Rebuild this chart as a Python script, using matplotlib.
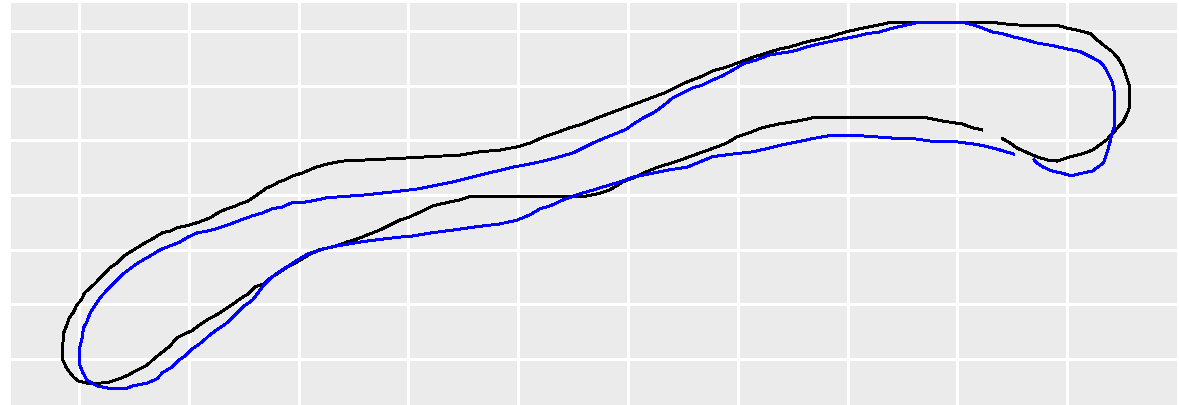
import numpy as np
import matplotlib
matplotlib.use("Agg")
import matplotlib.pyplot as plt

# Black trace (open loop; gap between its two ends)
black_x = [82.2, 81.4, 80.4, 78.7, 77.2, 72.9, 66.8, 65.4, 63.8, 62.2, 61.1, 59.9, 59.0, 58.1,
           56.3, 54.5, 52.6, 51.4, 50.5, 49.5, 49.0, 48.2, 47.2, 45.9, 44.4, 35.6, 34.7, 33.5,
           32.2, 31.1, 30.1, 29.2, 28.3, 27.4, 26.5, 25.4, 24.4, 23.1, 21.9, 20.8, 19.9, 19.0,
           18.3, 17.4, 16.8, 16.0, 15.4, 14.8, 14.2, 13.5, 12.7, 11.7, 11.0, 10.3, 9.4, 8.9,
           8.3, 7.6, 6.9, 6.2, 5.3, 4.5, 3.7, 2.8, 1.9, 0.7, -0.1, -0.5, -0.9, -1.2, -1.5, -1.5,
           -1.4, -1.1, -0.9, -0.5, -0.2, 0.2, 0.5, 1.0, 1.5, 1.9, 2.4, 2.8, 3.5, 4.0, 4.5, 5.1,
           5.7, 6.7, 7.6, 8.3, 8.9, 9.9, 11.0, 11.9, 12.8, 13.5, 14.0, 14.7, 15.4, 16.0, 16.6,
           17.1, 17.7, 18.2, 18.9, 19.5, 20.3, 21.6, 22.7, 24.0, 29.2, 34.7, 36.5,
           38.3, 39.9, 41.1, 42.3, 43.5, 44.7, 45.9, 47.2, 48.4, 49.9, 51.1, 52.3, 53.5, 54.5,
           55.4, 56.6, 57.7, 59.0, 60.2, 61.4, 62.7, 63.8, 64.8, 65.9, 67.2, 68.4, 69.3, 70.2,
           71.4, 72.9, 74.0, 83.0, 85.1, 89.3, 90.0, 91.2, 92.1, 92.7, 93.3, 94.1, 94.6, 95.1,
           95.4, 95.7, 95.7, 95.4, 95.1, 94.6, 94.2, 93.6, 93.0, 92.3, 91.3, 90.3, 89.1, 88.2,
           87.2, 86.2, 85.4, 84.8, 84.1]
black_y = [41.9, 42.3, 43.0, 43.5, 44.1, 44.1, 44.1, 43.5, 43.0, 42.3, 41.4, 40.6, 39.5, 38.8,
           37.5, 36.2, 35.0, 34.0, 33.1, 32.4, 31.7, 30.8, 30.2, 29.7, 29.7, 29.7, 29.1, 28.6,
           28.0, 26.9, 26.0, 25.4, 24.5, 23.6, 22.9, 22.0, 21.4, 20.5, 20.0, 18.9, 17.8, 16.9,
           15.9, 14.8, 13.7, 13.2, 11.9, 11.2, 10.3, 9.4, 8.3, 7.2, 6.3, 5.2, 4.4, 3.9,
           2.4, 1.3, 0.2, -1.1, -2.0, -2.9, -3.6, -4.2, -4.4, -4.4, -4.0, -3.3, -2.3, -1.4, -0.1, 2.2,
           4.8, 6.3, 7.5, 8.6, 9.9, 10.8, 12.1, 13.0, 13.9, 14.8, 15.8, 16.7, 17.6, 18.7, 19.4, 20.1,
           20.9, 22.0, 23.1, 23.4, 24.0, 24.4, 25.1, 25.8, 26.9, 27.5, 27.8, 28.4, 28.9, 29.7, 30.6,
           31.3, 31.8, 32.4, 32.9, 33.5, 34.0, 35.1, 35.7, 36.2, 36.7, 37.3, 37.9,
           38.2, 38.8, 39.5, 40.6, 41.4, 42.3, 43.0, 44.1, 45.0, 46.1, 47.0, 47.9, 48.8, 49.8,
           50.7, 51.6, 52.7, 53.4, 54.3, 55.2, 56.0, 56.7, 57.1, 57.8, 58.4, 58.9, 59.5, 60.0,
           60.5, 61.1, 61.6, 61.6, 61.1, 60.9, 60.5, 60.0, 59.5, 58.4, 57.4, 56.2, 55.1, 53.4,
           51.6, 49.8, 46.1, 44.6, 43.4, 42.3, 41.4, 40.1, 39.2, 38.2, 37.5, 37.0, 36.2, 36.4,
           37.0, 37.9, 38.6, 39.5, 40.3]

# Blue trace (open loop; gap between its two ends)
blue_x = [85.1, 84.1, 83.2, 81.9, 80.0, 78.1, 76.0, 74.8, 71.4, 68.2, 66.8, 65.4, 64.1, 62.9,
          61.4, 59.6, 57.7, 56.6, 55.4, 53.8, 52.3, 50.5, 49.3, 48.1, 46.8, 45.6, 44.1, 42.9,
          42.0, 41.1, 39.9, 38.3, 36.2, 34.1, 32.2, 30.4, 29.2, 27.1, 25.6, 24.7, 23.5, 22.6,
          21.7, 20.8, 19.9, 19.2, 18.5, 17.7, 17.1, 16.7, 16.3, 15.8, 14.9, 14.2, 13.6, 12.8,
          11.9, 11.2, 10.4, 9.7, 9.0, 8.5, 7.6, 7.1, 6.2, 4.9, 4.4, 2.6, 1.6, 0.7, 0.3, 0.0,
          0.0, 0.3, 0.4, 0.7, 1.0, 1.5, 1.9, 2.6, 3.3, 3.9, 4.5, 5.1, 5.8, 6.6, 7.4, 8.3, 9.2,
          9.9, 10.8, 11.7, 12.8, 13.8, 14.7, 15.8, 16.7, 17.6, 18.5, 19.4, 20.6, 21.7, 22.6,
          26.0, 29.2, 30.8, 32.6, 34.1, 35.9, 37.7, 39.3, 41.1, 42.3, 43.8, 45.0, 45.9,
          46.8, 48.1, 49.1, 49.9, 50.5, 51.4, 52.3, 53.2, 54.1, 55.0, 55.9, 56.8, 57.7, 58.6,
          59.6, 60.5, 61.7, 62.9, 64.1, 64.8, 65.4, 66.3, 67.8, 69.3, 70.5, 71.8, 72.9, 74.1,
          75.4, 76.6, 80.5, 81.4, 82.3, 83.2, 84.1, 85.1, 86.2, 87.2, 88.7, 90.0, 91.2, 91.8,
          92.3, 93.0, 93.4, 93.7, 94.1, 94.3, 94.3, 94.3, 94.1, 93.9, 93.7, 93.5, 93.3, 92.8,
          92.3, 91.4, 90.4, 89.5, 88.6, 87.8, 87.2, 87.0]
blue_y = [37.5, 38.1, 38.6, 39.2, 39.7, 39.7, 40.3, 40.3, 40.8, 40.8, 40.3, 39.7, 39.2, 38.6,
          37.9, 37.5, 37.0, 36.1, 35.1, 34.6, 34.0, 33.3, 32.4, 31.7, 30.9, 30.2, 29.1, 28.0,
          27.5, 26.4, 25.4, 24.7, 24.2, 23.6, 23.1, 22.5, 22.3, 21.8, 21.4, 21.1, 20.7, 20.3,
          19.8, 19.2, 18.1, 17.2, 16.3, 15.2, 14.1, 13.2, 12.1, 10.8, 9.5, 8.1, 6.8, 5.7,
          4.4, 3.1, 2.0, 0.6, -0.3, -1.4, -2.5, -3.6, -4.4, -4.9, -5.3, -5.3, -4.9, -3.8, -2.3, -0.7,
          1.7, 4.1, 5.7, 6.8, 8.4, 9.9, 11.2, 12.7, 14.1, 15.4, 16.3, 17.2, 18.1, 19.0, 20.0, 20.7, 21.4,
          22.3, 23.1, 23.4, 24.0, 24.7, 25.4, 26.2, 26.7, 27.5, 27.8, 28.6, 28.7, 29.1, 29.5,
          30.0, 30.7, 31.1, 31.8, 32.4, 33.3, 34.2, 35.0, 35.7, 36.2, 37.0, 37.7, 38.6,
          39.5, 40.6, 41.4, 42.1, 43.0, 44.1, 45.0, 46.3, 47.8, 48.7, 49.6, 50.1, 51.0, 51.8,
          52.9, 54.0, 54.7, 55.6, 56.0, 56.2, 56.5, 57.1, 57.8, 58.4, 58.9, 59.5, 59.8, 60.5,
          61.1, 61.6, 61.6, 61.1, 60.5, 59.8, 59.5, 58.9, 58.4, 57.8, 57.3, 56.7, 56.2, 55.6,
          55.1, 54.3, 53.4, 52.3, 50.7, 48.7, 44.3, 42.5, 41.4, 39.7, 38.2, 37.0, 35.9, 35.1,
          34.4, 34.0, 33.5, 34.0, 34.4, 35.1, 35.9, 36.4]

x_breaks = [0, 10, 20, 30, 40, 50, 60, 70, 80, 90]
y_breaks = [0, 10, 20, 30, 40, 50, 60]

W, H = 1179, 405
fig = plt.figure(figsize=(W / 100, H / 100), dpi=100)
fig.patch.set_facecolor("white")
ax = fig.add_axes([11 / W, 0, 1166 / W, 402 / H])
ax.set_facecolor("#EBEBEB")
ax.set_xlim(-6.2, 100.0)
ax.set_ylim(-8.4, 65.1)
for xb in x_breaks:
    ax.axvline(xb, color="white", lw=1.9, antialiased=False, zorder=1)
for yb in y_breaks:
    ax.axhline(yb, color="white", lw=1.9, antialiased=False, zorder=1)

ax.plot(black_x, black_y, color="black", lw=1.4, antialiased=False, zorder=3)
ax.plot(blue_x, blue_y, color="#0000FF", lw=1.4, antialiased=False, zorder=3)

ax.set_xticks([])
ax.set_yticks([])
for s in ax.spines.values():
    s.set_visible(False)

fig.savefig("out.png", dpi=100)
